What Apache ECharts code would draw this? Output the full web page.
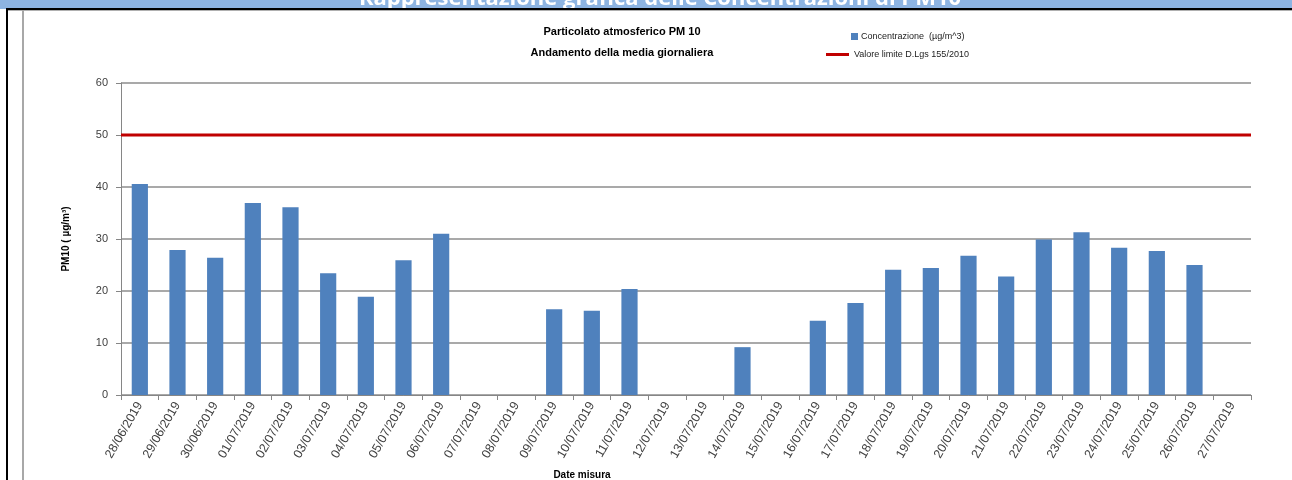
<!DOCTYPE html>
<html>
<head>
<meta charset="utf-8">
<script src="https://cdn.jsdelivr.net/npm/echarts@6/dist/echarts.min.js"></script>
<style>html,body{margin:0;padding:0;background:#fff}#c{width:1292px;height:480px}</style>
</head>
<body>
<div id="c"></div>
<script>
const categories = ['28/06/2019','29/06/2019','30/06/2019','01/07/2019','02/07/2019','03/07/2019','04/07/2019','05/07/2019','06/07/2019','07/07/2019','08/07/2019','09/07/2019','10/07/2019','11/07/2019','12/07/2019','13/07/2019','14/07/2019','15/07/2019','16/07/2019','17/07/2019','18/07/2019','19/07/2019','20/07/2019','21/07/2019','22/07/2019','23/07/2019','24/07/2019','25/07/2019','26/07/2019','27/07/2019'];
const concentrazione = [40.6,27.9,26.4,36.9,36.1,23.4,18.9,25.9,31.0,null,null,16.5,16.2,20.4,null,null,9.2,null,14.3,17.7,24.1,24.4,26.8,22.8,29.9,31.3,28.3,27.7,25.0,null];
const limite = [50,50,50,50,50,50,50,50,50,50,50,50,50,50,50,50,50,50,50,50,50,50,50,50,50,50,50,50,50,50];
const yTicks = [0,10,20,30,40,50,60];
const nameBar = 'Concentrazione  (µg/m^3)';
const nameLine = 'Valore limite D.Lgs 155/2010';

const FONT = "'Liberation Sans',Arial,sans-serif";
const chart = echarts.init(document.getElementById('c'), null, {renderer:'canvas'});
chart.setOption({
  animation:false,
  textStyle:{fontFamily:FONT},
  title:{
    text:'Particolato atmosferico PM 10\nAndamento della media giornaliera',
    left:617, top:16, textAlign:'center',
    textStyle:{fontSize:11, fontWeight:'bold', color:'#000', lineHeight:21, fontFamily:FONT}
  },
  legend:[
    {data:[nameBar], left:846, top:27, orient:'vertical', icon:'rect', itemWidth:7, itemHeight:7, itemGap:4,
     textStyle:{fontSize:9, color:'#222', fontFamily:FONT, padding:[0,0,0,-2]}},
    {data:[nameLine], left:821, top:45, orient:'vertical', icon:'rect', itemWidth:23, itemHeight:3, itemGap:4,
     textStyle:{fontSize:9, color:'#222', fontFamily:FONT}}
  ],
  grid:{left:121, right:41, top:83, bottom:85, containLabel:false},
  xAxis:[
    {type:'category', data:categories, boundaryGap:true,
     axisLine:{lineStyle:{color:'#868686', width:1}},
     axisTick:{show:true, alignWithLabel:false, length:5, lineStyle:{color:'#868686'}},
     axisLabel:{rotate:60, fontSize:12.5, color:'#404040', margin:8, interval:0, fontFamily:FONT}},
    {type:'category', data:categories, boundaryGap:false, show:false}
  ],
  yAxis:{
    type:'value', min:0, max:60, interval:10,
    name:'PM10 ( µg/m³)', nameLocation:'middle', nameGap:50, nameRotate:90,
    nameTextStyle:{fontSize:10, fontWeight:'bold', color:'#000', fontFamily:FONT},
    axisLine:{show:true, lineStyle:{color:'#868686'}},
    axisTick:{show:true, length:5, lineStyle:{color:'#868686'}},
    axisLabel:{fontSize:11, color:'#404040', margin:13, fontFamily:FONT,
      formatter:function(v){return yTicks.indexOf(v)>=0?String(v):'';}},
    splitLine:{show:true, lineStyle:{color:'#8c8c8c', width:1.5}}
  },
  series:[
    {name:nameBar, type:'bar', data:concentrazione, barWidth:'43%',
     itemStyle:{color:'#4F81BD'}, xAxisIndex:0},
    {name:nameLine, type:'line', data:limite, xAxisIndex:1, symbol:'none',
     lineStyle:{color:'#C00000', width:3}, itemStyle:{color:'#C00000'}, z:5}
  ],
  graphic:[
    {type:'rect', shape:{x:0,y:0,width:1292,height:9}, style:{fill:'#8DB4E2'}, z:1},
    {type:'text', x:660, y:-12, style:{text:'Rappresentazione grafica delle Concentrazioni di PM10', fill:'#fff', font:"bold 22px 'Open Sans','Liberation Sans',sans-serif", textAlign:'center', textVerticalAlign:'top'}, z:2},
    {type:'rect', shape:{x:6,y:8,width:1286,height:2}, style:{fill:'#000'}, z:3},
    {type:'rect', shape:{x:6,y:10,width:1286,height:1}, style:{fill:'#b0b0b0'}, z:3},
    {type:'rect', shape:{x:6,y:8,width:2,height:472}, style:{fill:'#000'}, z:3},
    {type:'rect', shape:{x:22,y:10,width:2,height:470}, style:{fill:'#a8a8a8'}, z:3},
    {type:'text', x:582, y:470, style:{text:'Date misura', fill:'#000', font:"bold 10px "+FONT, textAlign:'center', textVerticalAlign:'top'}, z:3}
  ]
});
</script>
</body>
</html>
